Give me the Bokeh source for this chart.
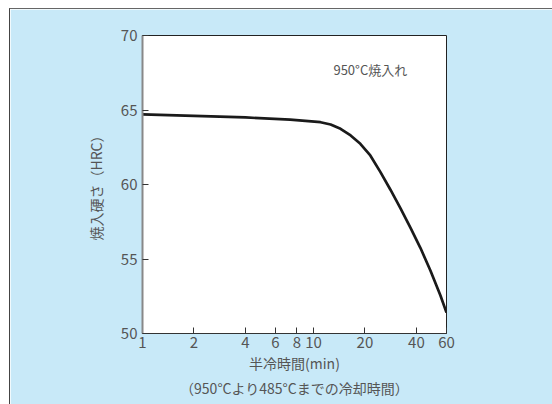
from bokeh.plotting import figure
from bokeh.models import Range1d, FixedTicker, Label
from bokeh.embed import file_html
from bokeh.resources import INLINE

# data
cool_time = [1, 4, 7.3, 11, 12.6, 14.4, 16.5, 18.8, 21.5, 24.6, 28.2, 32.3, 36.9, 42.2, 48.3, 55.3, 60]
hardness = [64.7, 64.5, 64.35, 64.18, 64.03, 63.74, 63.29, 62.73, 61.95, 60.85, 59.65, 58.4, 57.1, 55.75, 54.23, 52.55, 51.4]
x_ticks = [1, 2, 4, 6, 8, 10, 20, 40, 60]
x_tick_labels = ["1", "2", "4", "6", "8", "10", "20", "40", "60"]
y_ticks = [50, 55, 60, 65, 70]

FONT = "Noto Sans CJK JP"
TXT = "#555555"
BG = "#c8e9f8"

p = figure(x_axis_type="log", x_range=Range1d(1, 60), y_range=Range1d(50, 70),
           frame_width=304, frame_height=298,
           min_border_left=132, min_border_right=106, min_border_top=26, min_border_bottom=71,
           output_backend="svg", toolbar_location=None)
p.styles = {"margin-left": "9px", "margin-top": "8px",
            "border-top": "1px solid #666666", "border-left": "1px solid #444444"}

p.background_fill_color = "white"
p.border_fill_color = BG
p.outline_line_color = "#222222"
p.outline_line_width = 1
p.xgrid.visible = False
p.ygrid.visible = False

p.line(cool_time, hardness, line_color="#1a1a1a", line_width=2.7)

p.xaxis.ticker = FixedTicker(ticks=x_ticks)
p.xaxis.major_label_overrides = {t: l for t, l in zip(x_ticks, x_tick_labels)}
p.yaxis.ticker = FixedTicker(ticks=y_ticks)

for ax in (p.xaxis, p.yaxis):
    ax.minor_tick_line_color = None
    ax.major_tick_in = 6
    ax.major_tick_out = 0
    ax.major_tick_line_color = "#333333"
    ax.major_label_text_font = FONT
    ax.major_label_text_font_size = "15px"
    ax.major_label_text_color = TXT
    ax.axis_label_text_font = FONT
    ax.axis_label_text_font_size = "14px"
    ax.axis_label_text_color = TXT
    ax.axis_label_text_font_style = "normal"

p.yaxis.axis_line_color = "#888888"
p.yaxis.axis_line_width = 2
p.xaxis.axis_line_color = "#333333"
p.yaxis.major_label_standoff = 5
p.xaxis.major_label_standoff = 3

p.yaxis.axis_label = "焼入硬さ（HRC）"
p.yaxis.axis_label_standoff = 12
p.xaxis.axis_label = "半冷時間(min)\n（950°Cより485°Cまでの冷却時間）"
p.xaxis.axis_label_standoff = 2
p.xaxis.axis_label_text_line_height = 1.25

p.add_layout(Label(x=21.5, y=67.7, text="950°C焼入れ", text_align="center", text_baseline="middle",
                   text_font=FONT, text_font_size="13px", text_color=TXT))

open("out.html", "w").write(file_html(p, INLINE))
